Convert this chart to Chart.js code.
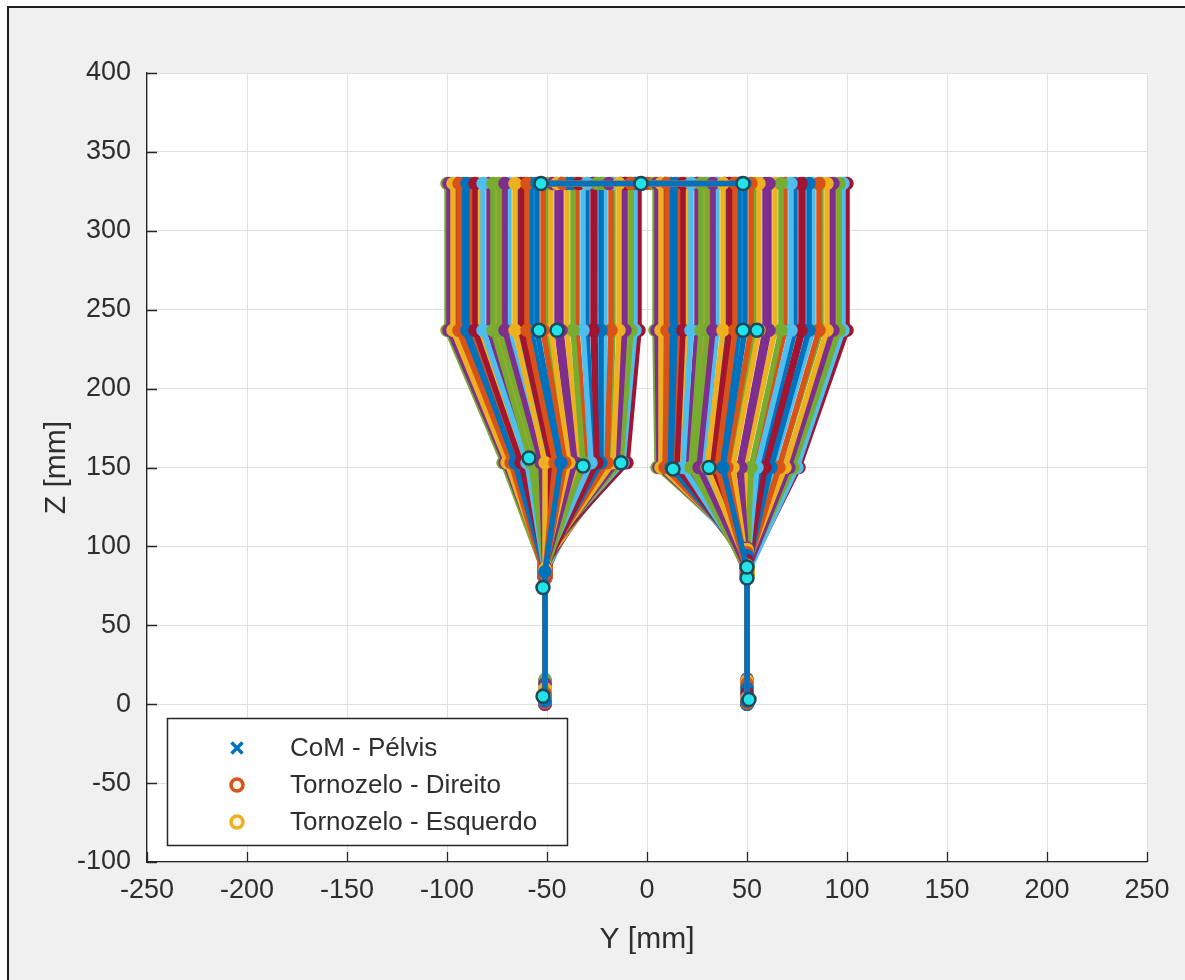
<!DOCTYPE html>
<html>
<head>
<meta charset="utf-8">
<script src="https://cdn.jsdelivr.net/npm/chart.js@4.4.1/dist/chart.umd.min.js"></script>
<style>
  html, body { margin: 0; padding: 0; background: #ffffff; }
  #fig { position: absolute; left: 7px; top: 6px; width: 1180px; height: 976px;
         background: #f0f0f0; border-left: 2px solid #1e1e1e; border-top: 2px solid #1e1e1e; }
  #wrap { position: absolute; left: 0; top: 0; width: 1185px; height: 980px; }
</style>
</head>
<body>
<div id="fig"></div>
<div id="wrap"><canvas id="c" width="1185" height="980"></canvas></div>
<script>
// Axis ticks
const yTicksMm = [-250, -200, -150, -100, -50, 0, 50, 100, 150, 200, 250];
const zTicksMm = [-100, -50, 0, 50, 100, 150, 200, 250, 300, 350, 400];

// Stick figure per frame (frontal plane, mm)
const comY   = [-3,-8,-14,-19,-25,-30,-34,-38,-42,-45,-47,-48,-46,-43,-40,-36,-32,-27,-22,-17,-11,-6,0,4,9,15,20,25,29,34,38,41,44,46,48,47,45,42,39,35,31,26,22,17,12,7,2,-4,-9,-13,-20,-24];
const hipLY  = [-55,-60,-66,-71,-77,-82,-86,-90,-94,-97,-99,-100,-98,-95,-92,-88,-84,-79,-74,-69,-63,-58,-52,-48,-43,-37,-32,-27,-23,-18,-14,-11,-8,-6,-4,-5,-7,-10,-13,-17,-21,-26,-30,-35,-40,-45,-50,-56,-61,-65,-72,-76];
const hipRY  = [49,44,38,33,27,22,18,14,10,7,5,4,6,9,12,16,20,25,30,35,41,46,52,56,61,67,72,77,81,86,90,93,96,98,100,99,97,94,91,87,83,78,74,69,64,59,54,48,43,39,32,28];
const kneeLY = [-43,-46,-51,-53,-58,-60,-63,-66,-68,-70,-71,-72,-70,-69,-67,-64,-62,-59,-55,-52,-48,-45,-41,-39,-36,-32,-28,-25,-23,-20,-17,-15,-13,-12,-10,-11,-12,-14,-16,-19,-21,-25,-27,-30,-34,-37,-40,-44,-47,-50,-54,-57];
const kneeRY = [38,35,30,26,22,18,15,12,9,7,6,5,6,9,11,14,17,20,24,28,32,36,40,43,47,52,55,59,62,66,69,71,73,75,76,75,74,72,69,66,63,60,57,53,49,46,42,37,34,31,25,23];
const ankleLZ = [84,82,86,81,85,83,87,84,80,83,85,82,86,84,81,84,83,87,85,80,83,86,84,88,86,84,88,86,89,91,93,95,97,98,97,95,93,90,88,86,84,82,86,84,80,83,86,84,82,81,85,83];
const footLZ  = [2,1,3,0,2,1,3,2,0,1,2,1,3,2,0,2,1,3,2,0,1,3,2,4,3,2,4,3,5,7,10,13,15,16,15,13,10,8,5,3,2,1,3,2,0,1,3,2,1,0,2,1];
const ankleRZ = [86,84,88,85,84,88,91,94,96,98,99,99,97,95,93,90,88,86,84,87,85,82,84,86,88,84,86,82,84,86,88,84,86,82,84,88,86,84,86,88,84,86,82,86,84,88,86,84,88,86,82,86];
const footRZ  = [2,1,3,2,1,4,7,10,13,15,16,16,14,11,9,6,4,2,1,3,2,0,1,2,3,1,2,0,1,2,3,1,2,0,1,3,2,1,2,3,1,2,0,2,1,3,2,1,3,2,0,2];
const footY   = [-51, 50];
const pelvisZ = 330;
const hipZ    = 237;
const kneeZ   = [153, 150];

// Highlighted joints
const markY = [-53, -3, 48, -54, -45, 48, 55, -59, -32, -13, 13, 31, -52, 50, 50, -52, 51];
const markZ = [330, 330, 330, 237, 237, 237, 237, 156, 151, 153, 149, 150, 74, 80, 87, 5, 3];

const palette = ['#0072BD', '#D95319', '#EDB120', '#7E2F8E', '#77AC30', '#4DBEEE', '#A2142F'];
const FONT = '"Liberation Sans", Arial, Helvetica, sans-serif';
const TXT = '#2e2e2e';

// one polyline per frame: left foot -> pelvis -> right foot
const frameSets = comY.map((c, i) => {
  const col = palette[i % palette.length];
  return {
    data: [
      { x: footY[0], y: footLZ[i] },
      { x: footY[0], y: ankleLZ[i] },
      { x: kneeLY[i], y: kneeZ[0] },
      { x: hipLY[i], y: hipZ },
      { x: hipLY[i], y: pelvisZ },
      { x: c, y: pelvisZ },
      { x: hipRY[i], y: pelvisZ },
      { x: hipRY[i], y: hipZ },
      { x: kneeRY[i], y: kneeZ[1] },
      { x: footY[1], y: ankleRZ[i] },
      { x: footY[1], y: footRZ[i] }
    ],
    showLine: true,
    borderColor: col,
    backgroundColor: col,
    pointBackgroundColor: col,
    pointBorderColor: col,
    borderWidth: 5.5,
    pointRadius: 6,
    pointBorderWidth: 1.5,
    order: 10
  };
});

const comSet = {
  label: 'CoM - Pélvis',
  data: comY.map(c => ({ x: c, y: pelvisZ })),
  pointStyle: 'crossRot', pointRadius: 6, pointBorderWidth: 3,
  borderColor: '#0072BD', pointBorderColor: '#0072BD', backgroundColor: '#0072BD',
  showLine: false, order: 30
};
const ankleRSet = {
  label: 'Tornozelo - Direito',
  data: ankleLZ.map(z => ({ x: footY[0], y: z })),
  pointStyle: 'circle', pointRadius: 6, pointBorderWidth: 3,
  borderColor: '#D95319', pointBorderColor: '#D95319', backgroundColor: '#ffffff', pointBackgroundColor: 'rgba(255,255,255,0)',
  showLine: false, order: 30
};
const ankleLSet = {
  label: 'Tornozelo - Esquerdo',
  data: ankleRZ.map(z => ({ x: footY[1], y: z })),
  pointStyle: 'circle', pointRadius: 6, pointBorderWidth: 3,
  borderColor: '#EDB120', pointBorderColor: '#EDB120', backgroundColor: '#ffffff', pointBackgroundColor: 'rgba(255,255,255,0)',
  showLine: false, order: 30
};
const markSet = {
  data: markY.map((y, i) => ({ x: y, y: markZ[i] })),
  showLine: false,
  pointRadius: 6.5, pointBorderWidth: 2.5,
  pointBackgroundColor: '#22e3ea', pointBorderColor: '#1d4a58',
  borderColor: '#1d4a58', backgroundColor: '#22e3ea',
  order: 0
};

const plotBackground = {
  id: 'plotBackground',
  beforeDraw(chart) {
    const { ctx, chartArea: a } = chart;
    ctx.save();
    ctx.fillStyle = '#ffffff';
    ctx.fillRect(a.left, a.top, a.right - a.left, a.bottom - a.top);
    ctx.restore();
  }
};

// tick marks pointing into the axes
const inwardTicks = {
  id: 'inwardTicks',
  afterDraw(chart) {
    const { ctx, chartArea: a, scales: { x, y } } = chart;
    ctx.save();
    ctx.strokeStyle = '#262626';
    ctx.lineWidth = 1.3;
    ctx.beginPath();
    x.ticks.forEach(t => {
      const px = Math.round(x.getPixelForValue(t.value)) + 0.5;
      ctx.moveTo(px, a.bottom); ctx.lineTo(px, a.bottom - 10);
    });
    y.ticks.forEach(t => {
      const py = Math.round(y.getPixelForValue(t.value)) + 0.5;
      ctx.moveTo(a.left, py); ctx.lineTo(a.left + 10, py);
    });
    ctx.stroke();
    ctx.restore();
  }
};

// legend box in the lower-left corner of the axes
const boxLegend = {
  id: 'boxLegend',
  afterDraw(chart) {
    const { ctx, chartArea: a } = chart;
    const items = chart.data.datasets.filter(d => d.label);
    const left = a.left + 20, w = 400, h = 127, top = a.bottom - 17 - h;
    ctx.save();
    ctx.fillStyle = '#ffffff';
    ctx.fillRect(left, top, w, h);
    ctx.strokeStyle = '#262626';
    ctx.lineWidth = 1.5;
    ctx.strokeRect(left + 0.5, top + 0.5, w, h);
    ctx.font = '26px ' + FONT;
    ctx.textBaseline = 'middle';
    ctx.textAlign = 'left';
    items.forEach((d, i) => {
      const cy = top + 30 + i * 37;
      const cx = left + 70;
      ctx.strokeStyle = d.borderColor;
      ctx.lineWidth = 3.5;
      if (d.pointStyle === 'crossRot') {
        ctx.beginPath();
        ctx.moveTo(cx - 5.5, cy - 5.5); ctx.lineTo(cx + 5.5, cy + 5.5);
        ctx.moveTo(cx + 5.5, cy - 5.5); ctx.lineTo(cx - 5.5, cy + 5.5);
        ctx.stroke();
      } else {
        ctx.beginPath();
        ctx.arc(cx, cy, 6, 0, Math.PI * 2);
        ctx.fillStyle = '#fff4e8';
        ctx.fill();
        ctx.stroke();
      }
      ctx.fillStyle = TXT;
      ctx.fillText(d.label, left + 123, cy + 1);
    });
    ctx.restore();
  }
};

new Chart(document.getElementById('c'), {
  type: 'scatter',
  data: { datasets: [comSet, ankleRSet, ankleLSet, ...frameSets, markSet] },
  options: {
    responsive: false,
    animation: false,
    devicePixelRatio: 1,
    layout: { padding: { left: 0, right: 38, top: 73, bottom: 0 } },
    plugins: { legend: { display: false }, tooltip: { enabled: false } },
    elements: { line: { tension: 0 } },
    scales: {
      x: {
        type: 'linear', min: -250, max: 250,
        afterBuildTicks: s => { s.ticks = yTicksMm.map(v => ({ value: v })); },
        afterFit: s => { s.height = 118; },
        grid: { color: '#dfdfdf', lineWidth: 1, drawTicks: false },
        border: { display: true, color: '#262626', width: 1.3 },
        ticks: { padding: 12, color: TXT, font: { family: FONT, size: 27 }, maxRotation: 0, autoSkip: false },
        title: { display: true, text: 'Y [mm]', color: TXT, font: { family: FONT, size: 30 }, padding: { top: 0, bottom: 22 } }
      },
      y: {
        type: 'linear', min: -100, max: 400,
        afterBuildTicks: s => { s.ticks = zTicksMm.map(v => ({ value: v })); },
        afterFit: s => { s.width = 147; },
        grid: { color: '#dfdfdf', lineWidth: 1, drawTicks: false },
        border: { display: true, color: '#262626', width: 1.3 },
        ticks: { padding: 16, color: TXT, font: { family: FONT, size: 27 }, autoSkip: false },
        title: { display: true, text: 'Z [mm]', color: TXT, font: { family: FONT, size: 30 }, padding: { top: 39, bottom: 0 } }
      }
    }
  },
  plugins: [plotBackground, inwardTicks, boxLegend]
});
</script>
</body>
</html>
